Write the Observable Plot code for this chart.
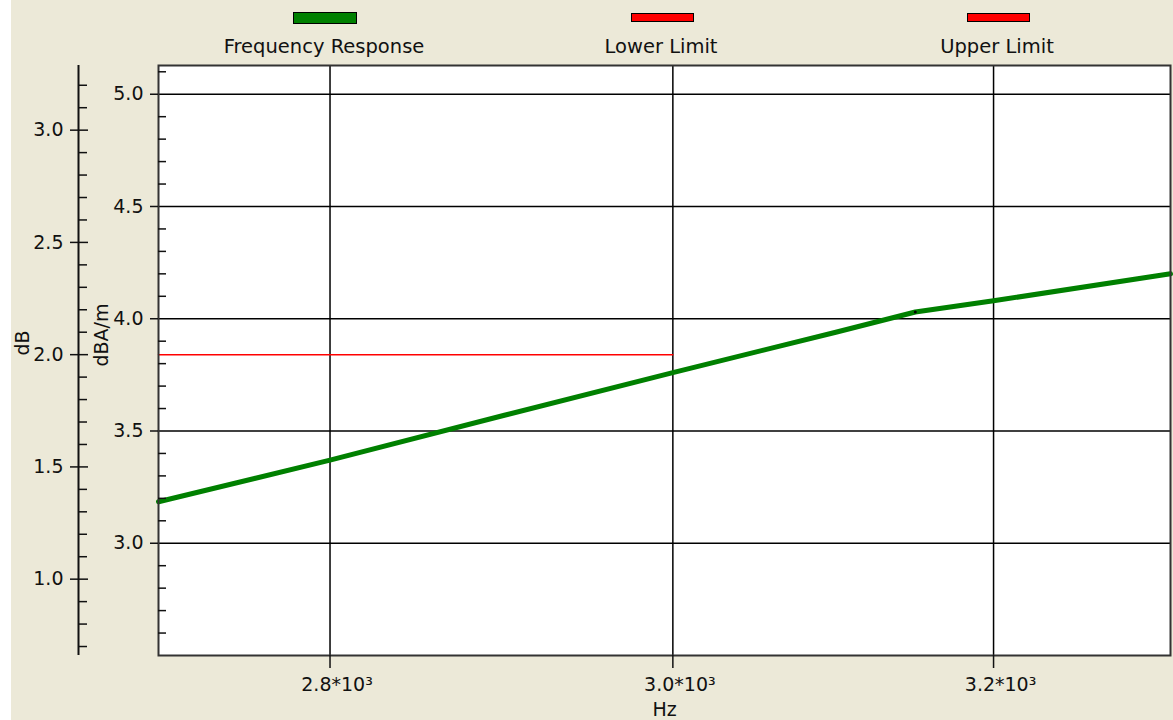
<!DOCTYPE html>
<html><head><meta charset="utf-8">
<script src="https://cdn.jsdelivr.net/npm/d3@7"></script>
<script src="https://cdn.jsdelivr.net/npm/@observablehq/plot@0.6"></script>
<style>
html,body{margin:0;padding:0;}
body{width:1173px;height:720px;overflow:hidden;background:linear-gradient(to right,#fff 11px,#ECE9D8 11px);font-family:"DejaVu Sans",sans-serif;color:#111;}
#legend{position:relative;height:58px;}
.sw{position:absolute;box-sizing:border-box;border:1px solid #000;}
.lab{position:absolute;top:37px;width:300px;text-align:center;font-size:19.5px;line-height:19px;white-space:nowrap;}
#chart svg{display:block;overflow:visible;}
</style></head><body>
<div id="legend"></div>
<div id="chart"></div>
<script>
// ---- data ----
const freqHz = [2705, 2800, 2900, 3000, 3100, 3150, 3200, 3316];
const responseDbAm = [3.185, 3.37, 3.57, 3.76, 3.94, 4.03, 4.08, 4.20];
const limitHz = [2705, 3000];
const lowerLimitDbAm = [3.84, 3.84];
const seriesNames = ["Frequency Response", "Lower Limit", "Upper Limit"];
const seriesColors = ["#008000", "#ff0000", "#ff0000"];
const xTicks = [2800, 3000, 3200];
const innerMajor = [3.0, 3.5, 4.0, 4.5, 5.0];
const innerMinor = [2.6, 2.7, 2.8, 2.9, 3.1, 3.2, 3.3, 3.4, 3.6, 3.7, 3.8, 3.9, 4.1, 4.2, 4.3, 4.4, 4.6, 4.7, 4.8, 4.9, 5.1];
const outerMajor = [1.0, 1.5, 2.0, 2.5, 3.0];
const outerMinor = [0.7, 0.8, 0.9, 1.1, 1.2, 1.3, 1.4, 1.6, 1.7, 1.8, 1.9, 2.1, 2.2, 2.3, 2.4, 2.6, 2.7, 2.8, 2.9, 3.1, 3.2];
const DB_OFFSET = 1.84; // dB axis value = dBA/m value - offset

// ---- legend ----
const legendCenters = [324, 661, 997];
const swW = [64, 63, 63], swH = [12, 9, 9], swTop = [12, 13, 13];
const legend = document.getElementById("legend");
seriesNames.forEach((name, i) => {
  const sw = document.createElement("div");
  sw.className = "sw";
  sw.style.left = (legendCenters[i] + 1 - swW[i] / 2) + "px";
  sw.style.top = swTop[i] + "px";
  sw.style.width = swW[i] + "px";
  sw.style.height = swH[i] + "px";
  sw.style.background = seriesColors[i];
  legend.appendChild(sw);
  const lab = document.createElement("div");
  lab.className = "lab";
  lab.style.left = (legendCenters[i] - 150) + "px";
  lab.textContent = name;
  legend.appendChild(lab);
});

// ---- chart ----
const response = freqHz.map((f, i) => ({f, v: responseDbAm[i]}));
const lower = limitHz.map((f, i) => ({f, v: lowerLimitDbAm[i]}));
const toInner = v => v + DB_OFFSET;

const chart = Plot.plot({
  width: 1173, height: 662,
  marginLeft: 158, marginRight: 3, marginTop: 7, marginBottom: 65,
  style: {background: "transparent", fontFamily: "DejaVu Sans", fontSize: "19px", color: "#111", overflow: "visible"},
  x: {type: "log", domain: [2705, 3316]},
  y: {domain: [2.5, 5.128]},
  marks: [
    Plot.frame({fill: "#fff", stroke: null}),
    Plot.ruleY(innerMajor, {stroke: "#000", strokeWidth: 1.5}),
    Plot.ruleX(xTicks, {stroke: "#000", strokeWidth: 1.5}),
    Plot.line(lower, {x: "f", y: "v", stroke: seriesColors[1], strokeWidth: 1.5}),
    Plot.line(response, {x: "f", y: "v", stroke: seriesColors[0], strokeWidth: 5}),
    Plot.dot([response[5]], {x: "f", y: "v", r: 1.5, fill: "#000"}),
    Plot.frame({stroke: "#333", strokeWidth: 2}),
    // inner dBA/m axis
    Plot.axisY(innerMajor, {anchor: "left", tickSize: 8, tickPadding: 7, strokeWidth: 1.5, tickFormat: d => d.toFixed(1), label: null}),
    Plot.axisY(innerMinor, {anchor: "left", tickSize: -8, strokeWidth: 1.5, tickFormat: () => "", label: null}),
    // outer dB axis
    Plot.ruleX([2705], {dx: -80, stroke: "#111", strokeWidth: 2}),
    Plot.axisY(outerMajor.map(toInner), {anchor: "left", dx: -80, tickSize: 8, tickPadding: 7, strokeWidth: 1.5, tickFormat: d => (d - DB_OFFSET).toFixed(1), label: null}),
    Plot.axisY(outerMajor.map(toInner), {anchor: "left", dx: -80, tickSize: -10, strokeWidth: 1.5, tickFormat: () => "", label: null}),
    Plot.axisY(outerMinor.map(toInner), {anchor: "left", dx: -80, tickSize: -9, strokeWidth: 1.5, tickFormat: () => "", label: null}),
    // x axis
    Plot.axisX(xTicks, {anchor: "bottom", tickSize: 13, strokeWidth: 1.5, tickFormat: () => "", label: null}),
    Plot.axisX(xTicks, {anchor: "bottom", tickSize: 0, tickPadding: 22, dx: 7, tickFormat: d => (d / 1000).toFixed(1) + "*10³", label: null}),
    Plot.text(["Hz"], {frameAnchor: "bottom", dy: 60}),
    Plot.text(["dB"], {frameAnchor: "left", dx: -136, dy: -5, rotate: -90}),
    Plot.text(["dBA/m"], {frameAnchor: "left", dx: -57, dy: 6, rotate: -90})
  ]
});
document.getElementById("chart").appendChild(chart);
</script></body></html>
